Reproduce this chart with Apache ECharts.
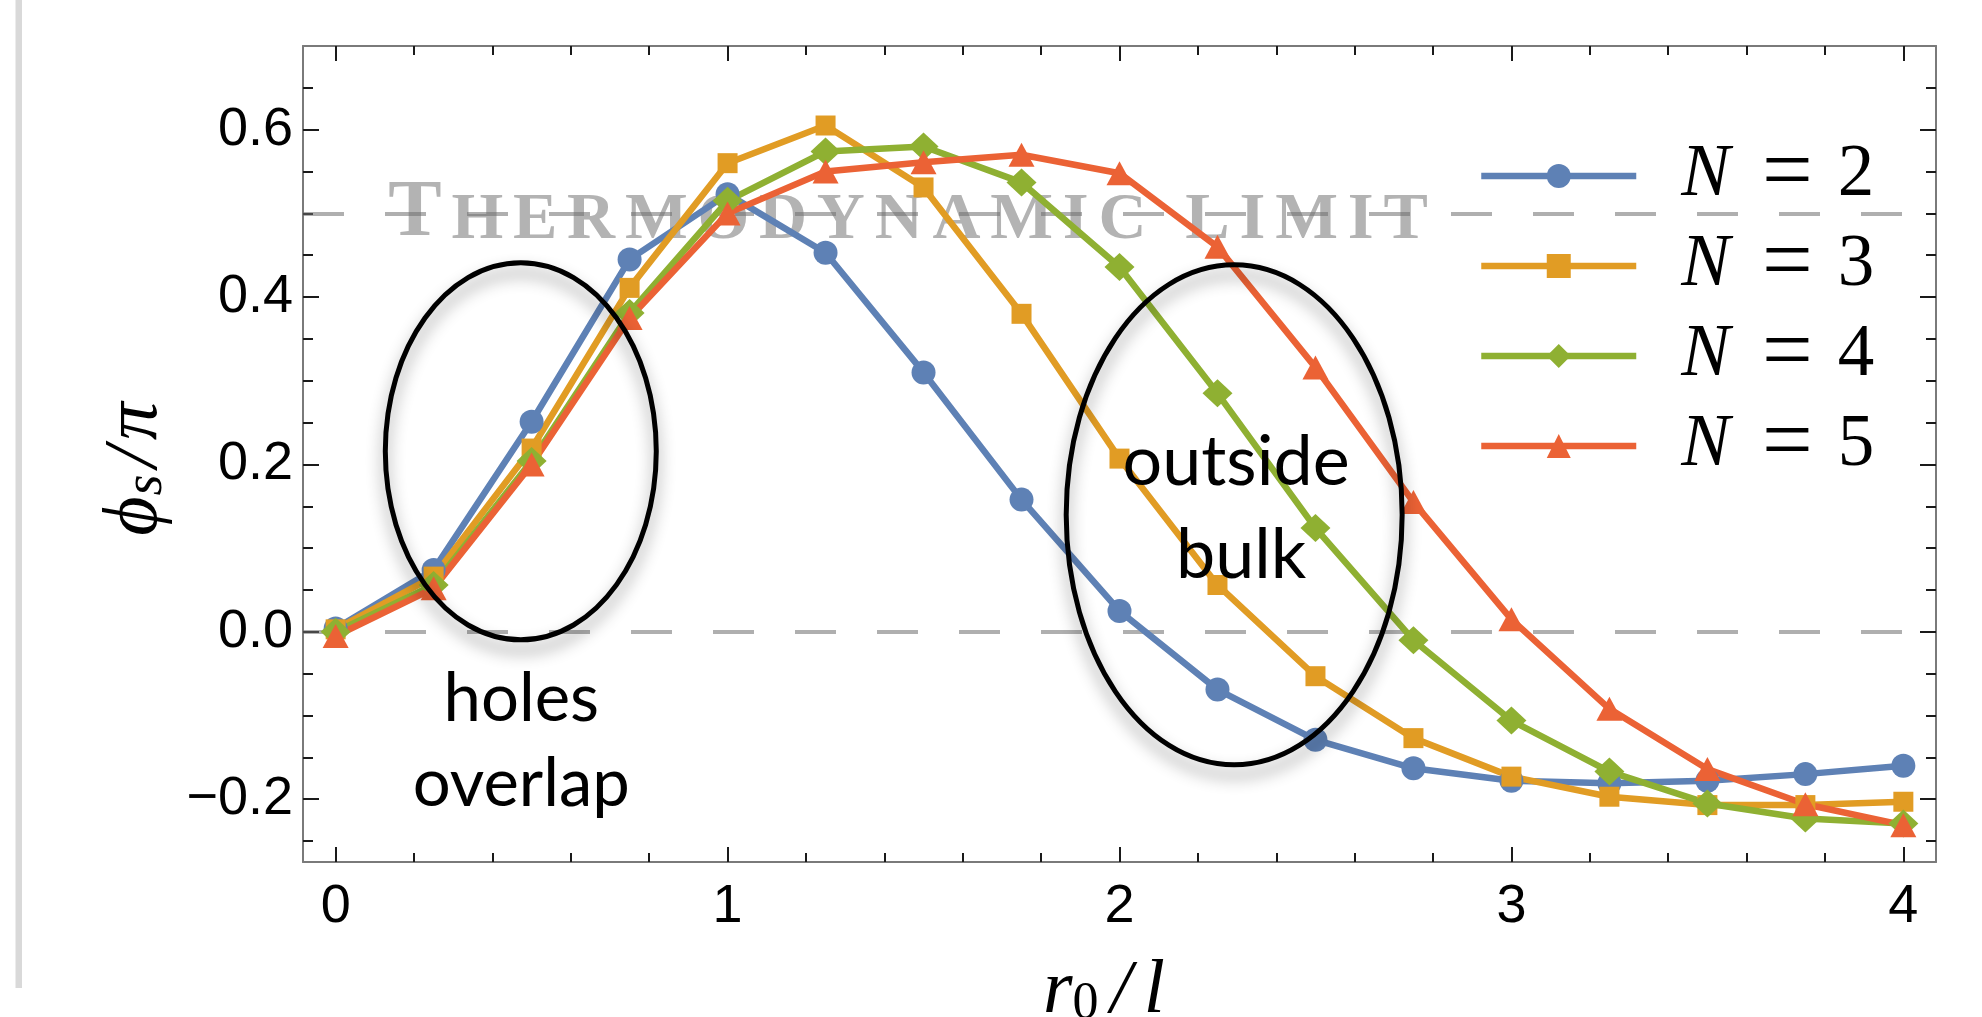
<!DOCTYPE html>
<html>
<head>
<meta charset="utf-8">
<script src="https://cdn.jsdelivr.net/npm/echarts@6/dist/echarts.min.js"></script>
<style>
html,body{margin:0;padding:0;background:#ffffff;}
#main{width:1982px;height:1017px;}
</style>
</head>
<body>
<div id="main"></div>
<script>
// ---------- data ----------
const xs = [0, 0.25, 0.5, 0.75, 1, 1.25, 1.5, 1.75, 2, 2.25, 2.5, 2.75, 3, 3.25, 3.5, 3.75, 4];
const seriesNames = ['N = 2', 'N = 3', 'N = 4', 'N = 5'];
const n2 = [0.004, 0.074, 0.251, 0.445, 0.523, 0.453, 0.310, 0.158, 0.025, -0.069, -0.129, -0.163, -0.178, -0.181, -0.178, -0.170, -0.160];
const n3 = [0.003, 0.066, 0.219, 0.411, 0.560, 0.605, 0.531, 0.380, 0.207, 0.056, -0.053, -0.127, -0.173, -0.197, -0.207, -0.207, -0.203];
const n4 = [0.000, 0.056, 0.204, 0.381, 0.515, 0.574, 0.580, 0.537, 0.436, 0.285, 0.124, -0.010, -0.106, -0.167, -0.205, -0.223, -0.229];
const n5 = [-0.005, 0.052, 0.200, 0.375, 0.500, 0.550, 0.561, 0.570, 0.548, 0.460, 0.316, 0.155, 0.015, -0.092, -0.164, -0.206, -0.231];
const xMajorTicks = [0, 1, 2, 3, 4];
const xMinorTicks = [0.2, 0.4, 0.6, 0.8, 1.2, 1.4, 1.6, 1.8, 2.2, 2.4, 2.6, 2.8, 3.2, 3.4, 3.6, 3.8];
const yMajorTicks = [-0.2, 0, 0.2, 0.4, 0.6];
const yMinorTicks = [-0.25, -0.15, -0.1, -0.05, 0.05, 0.1, 0.15, 0.25, 0.3, 0.35, 0.45, 0.5, 0.55, 0.65];
const referenceLines = [0, 0.5];
const limitLabel = 'THERMODYNAMIC LIMIT';
const noteLines = ['holes', 'overlap', 'outside', 'bulk'];

// ---------- layout / style ----------
const X_MIN = -0.0833, X_MAX = 4.0833, Y_MIN = -0.275, Y_MAX = 0.7;
const colors = ['#5E81B5', '#E19C24', '#8FB032', '#EB6235'];
const symbols = ['circle', 'rect', 'diamond', 'triangle'];
const symbolSizes = [24, 20, [30, 28], [26, 24]];
const LINE_W = 6.5;
const SANS = "'Liberation Sans', Arial, Helvetica, sans-serif";
const SERIF = "'Liberation Serif', 'Times New Roman', 'DejaVu Serif', serif";
const GILL = "Lato, 'Open Sans', sans-serif";
const frameColor = '#7a7a7a';
const tickColor = '#1a1a1a';

const chart = echarts.init(document.getElementById('main'), null, {renderer: 'canvas'});

function fmtY(v) {
  const s = Math.abs(v).toFixed(1);
  return v < -1e-9 ? '\u2212' + s : s;
}

function axisX(pos, major) {
  return {
    type: 'value', position: pos, min: X_MIN, max: X_MAX,
    axisLine: {show: major, onZero: false, lineStyle: {color: frameColor, width: 2}},
    axisTick: {show: true, inside: true, length: major ? 15 : 9,
      customValues: major ? xMajorTicks : xMinorTicks,
      lineStyle: {color: tickColor, width: 2}},
    axisLabel: (pos === 'bottom' && major) ? {
      show: true, customValues: xMajorTicks, formatter: v => String(Math.round(v)),
      fontSize: 54, fontFamily: SANS, color: '#000', margin: 18
    } : {show: false},
    splitLine: {show: false}
  };
}
function axisY(pos, major) {
  return {
    type: 'value', position: pos, min: Y_MIN, max: Y_MAX,
    axisLine: {show: major, onZero: false, lineStyle: {color: frameColor, width: 2}},
    axisTick: {show: true, inside: true, length: major ? 16 : 10,
      customValues: major ? yMajorTicks : yMinorTicks,
      lineStyle: {color: tickColor, width: 2}},
    axisLabel: (pos === 'left' && major) ? {
      show: true, customValues: yMajorTicks, formatter: fmtY,
      fontSize: 54, fontFamily: SANS, color: '#000', margin: 10
    } : {show: false},
    splitLine: {show: false}
  };
}

const allValues = [n2, n3, n4, n5];
const series = allValues.map((vals, i) => ({
  type: 'line',
  name: seriesNames[i],
  xAxisIndex: 0, yAxisIndex: 0,
  data: xs.map((x, j) => [x, vals[j]]),
  symbol: symbols[i],
  symbolSize: symbolSizes[i],
  showAllSymbol: true,
  color: colors[i],
  lineStyle: {color: colors[i], width: LINE_W},
  itemStyle: {color: colors[i]},
  emphasis: {disabled: true},
  z: 2
}));
series[0].markLine = {
  silent: true, z: 1, symbol: ['none', 'none'],
  label: {show: false},
  lineStyle: {color: 'rgba(110,110,110,0.55)', width: 4, type: [41, 41]},
  data: referenceLines.map(v => ({yAxis: v})),
  animation: false
};

const legendRich = {
  n: {fontFamily: SERIF, fontStyle: 'italic', fontSize: 73, lineHeight: 72, color: '#000', padding: [0, 0, 0, 40]},
  e: {fontFamily: SERIF, fontSize: 90, lineHeight: 72, color: '#000', padding: [0, 25, 0, 32]},
  d: {fontFamily: SERIF, fontSize: 73, lineHeight: 72, color: '#000'}
};

const option = {
  animation: false,
  backgroundColor: '#ffffff',
  grid: {left: 303, right: 46, top: 46, bottom: 155, containLabel: false},
  xAxis: [axisX('bottom', true), axisX('bottom', false), axisX('top', true), axisX('top', false)],
  yAxis: [axisY('left', true), axisY('left', false), axisY('right', true), axisY('right', false)],
  legend: {
    orient: 'vertical', left: 1478, top: 131, padding: 0,
    itemWidth: 155, itemHeight: 30, itemGap: 0,
    selectedMode: false,
    data: seriesNames,
    lineStyle: {width: LINE_W},
    formatter: name => {
      const parts = name.split(' = ');
      return '{n|' + parts[0] + '}{e|=}{d|' + parts[1] + '}';
    },
    textStyle: {rich: legendRich, fontSize: 73, lineHeight: 72}
  },
  series: series
};
chart.setOption(option);

// ---------- annotations (placed in data coordinates) ----------
const ellipses = [
  {cx: 0.4724, cy: 0.2157, rx: 0.3457, ry: 0.2252},
  {cx: 2.2926, cy: 0.1398, rx: 0.4286, ry: 0.2987}
];
const notePos = [
  {x: 0.4737, y: -0.1052, size: 67},
  {x: 0.4737, y: -0.2067, size: 67},
  {x: 2.2975, y: 0.1777, size: 70},
  {x: 2.3105, y: 0.0661, size: 70}
];
const P = (x, y) => chart.convertToPixel({xAxisIndex: 0, yAxisIndex: 0}, [x, y]);

const graphics = [];
graphics.push({type: 'rect', silent: true, z: 0, shape: {x: 15.5, y: 0, width: 6.5, height: 988}, style: {fill: '#d9d9d9'}});

// Thermodynamic limit label (small caps with tracking)
const GRAY = '#b3b3b3';
const TRACK = 4.9;
const limitRich = {
  B: {fontFamily: SERIF, fontWeight: 'bold', fontSize: 80, lineHeight: 80, verticalAlign: 'bottom', fill: GRAY, padding: [0, TRACK, 0, TRACK]},
  S: {fontFamily: SERIF, fontWeight: 'bold', fontSize: 66.5, lineHeight: 71, verticalAlign: 'bottom', fill: GRAY, padding: [0, TRACK, 0, TRACK]},
  W: {fontFamily: SERIF, fontWeight: 'bold', fontSize: 66.5, lineHeight: 71, verticalAlign: 'bottom', width: 29, fill: GRAY}
};
const limitText = limitLabel.split('').map((c, i) => i === 0 ? '{B|' + c + '}' : (c === ' ' ? '{W| }' : '{S|' + c + '}')).join('');
const lp = P(0.1395, 0.4716);
graphics.push({type: 'text', silent: true, z: 0, x: lp[0] - 7, y: lp[1] - 63,
  style: {text: limitText, rich: limitRich, fill: GRAY, align: 'left', verticalAlign: 'top'}});

ellipses.forEach(e => {
  const c = P(e.cx, e.cy), r = P(e.cx + e.rx, e.cy + e.ry);
  graphics.push({type: 'ellipse', silent: true, z: 10,
    shape: {cx: c[0], cy: c[1], rx: r[0] - c[0], ry: c[1] - r[1]},
    style: {fill: 'none', stroke: '#000', lineWidth: 5, shadowBlur: 16, shadowOffsetY: 10, shadowColor: 'rgba(0,0,0,0.45)'}});
});
noteLines.forEach((t, i) => {
  const p = P(notePos[i].x, notePos[i].y);
  const fs = notePos[i].size;
  graphics.push({type: 'text', silent: true, z: 11, x: p[0], y: p[1] - 0.30 * fs,
    style: {text: t, fontFamily: GILL, fontSize: fs, fill: '#000', align: 'center', verticalAlign: 'middle'}});
});

// Axis titles (math style)
const yRich = {
  p: {fontFamily: SERIF, fontStyle: 'italic', fontSize: 76, lineHeight: 76, verticalAlign: 'bottom', padding: [0, 1, 0, 0], fill: '#000'},
  s: {fontFamily: SERIF, fontStyle: 'italic', fontSize: 54, lineHeight: 34, verticalAlign: 'bottom', padding: [0, 7, 0, 0], fill: '#000'},
  q: {fontFamily: SERIF, fontStyle: 'italic', fontSize: 76, lineHeight: 76, verticalAlign: 'bottom', padding: [0, 6, 0, 0], fill: '#000'},
  r: {fontFamily: SERIF, fontStyle: 'italic', fontSize: 76, lineHeight: 76, verticalAlign: 'bottom', fill: '#000'}
};
graphics.push({type: 'text', silent: true, z: 5, x: 136, y: 469, rotation: Math.PI / 2,
  style: {text: '{p|\u03D5}{s|s}{q|/}{r|\u03C0}', rich: yRich, align: 'center', verticalAlign: 'middle'}});

const xRich = {
  r: {fontFamily: SERIF, fontStyle: 'italic', fontSize: 76, lineHeight: 76, verticalAlign: 'bottom', fill: '#000'},
  z: {fontFamily: SERIF, fontSize: 52, lineHeight: 26, verticalAlign: 'bottom', padding: [0, 8, 0, 0], fill: '#000'},
  q: {fontFamily: SERIF, fontStyle: 'italic', fontSize: 76, lineHeight: 76, verticalAlign: 'bottom', padding: [0, 12, 0, 4], fill: '#000'},
  l: {fontFamily: SERIF, fontStyle: 'italic', fontSize: 76, lineHeight: 76, verticalAlign: 'bottom', fill: '#000'}
};
graphics.push({type: 'text', silent: true, z: 5, x: 1043, y: 954,
  style: {text: '{r|r}{z|0}{q|/}{l|l}', rich: xRich, align: 'left', verticalAlign: 'top'}});

chart.setOption({graphic: graphics});
</script>
</body>
</html>
